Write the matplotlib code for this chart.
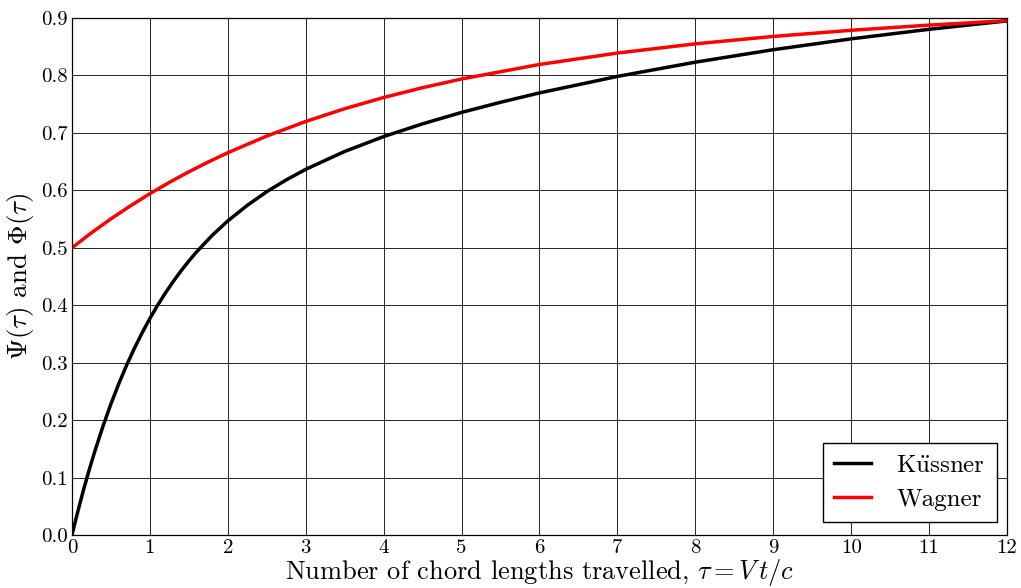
import matplotlib
matplotlib.use("Agg")
import matplotlib.pyplot as plt

plt.rcParams['font.family'] = 'serif'
plt.rcParams['font.serif'] = ['cmr10']
plt.rcParams['mathtext.fontset'] = 'cm'
plt.rcParams['axes.formatter.use_mathtext'] = True

# Küssner function values
kussner_tau = [0, 0.05, 0.1, 0.15, 0.2, 0.25, 0.3, 0.4, 0.5, 0.6, 0.7, 0.8, 0.9, 1.0,
               1.1, 1.2, 1.3, 1.4, 1.5, 1.6, 1.8, 2.0, 2.25, 2.5, 2.75, 3.0, 3.5, 4.0,
               4.5, 5.0, 5.5, 6.0, 7.0, 8.0, 9.0, 10.0, 11.0, 12.0]
kussner_val = [0.0, 0.0275, 0.0540, 0.0795, 0.1035, 0.1265, 0.1487, 0.1902, 0.2282,
               0.2631, 0.2952, 0.3247, 0.3519, 0.3770, 0.4002, 0.4216, 0.4414, 0.4599,
               0.4770, 0.4930, 0.5217, 0.5468, 0.5739, 0.5977, 0.6182, 0.6366, 0.6677,
               0.6936, 0.7158, 0.7356, 0.7533, 0.7696, 0.7983, 0.8231, 0.8448, 0.8637,
               0.8803, 0.8949]

# Wagner function values
wagner_tau = [0, 0.25, 0.5, 0.75, 1.0, 1.25, 1.5, 1.75, 2.0, 2.5, 3.0, 3.5, 4.0, 4.5,
              5.0, 6.0, 7.0, 8.0, 9.0, 10.0, 11.0, 12.0]
wagner_val = [0.5, 0.5261, 0.5504, 0.5730, 0.5942, 0.6139, 0.6323, 0.6494, 0.6655,
              0.6945, 0.7199, 0.7421, 0.7616, 0.7787, 0.7938, 0.8191, 0.8390, 0.8550,
              0.8679, 0.8786, 0.8876, 0.8953]

x_ticks = list(range(0, 13))
y_ticks = [0.0, 0.1, 0.2, 0.3, 0.4, 0.5, 0.6, 0.7, 0.8, 0.9]

fig = plt.figure(figsize=(10.21, 5.88), dpi=100)
ax = fig.add_axes([0.0705, 0.0901, 0.9158, 0.8793])

ax.plot(kussner_tau, kussner_val, color='black', lw=2.5,
        label=r'K$\mathrm{\ddot{u}}$ssner')
ax.plot(wagner_tau, wagner_val, color='red', lw=2.5, label='Wagner')

ax.set_xlim(0, 12)
ax.set_ylim(0, 0.9)
ax.set_xticks(x_ticks)
ax.set_yticks(y_ticks)
ax.set_xticklabels([str(t) for t in x_ticks])
ax.set_yticklabels([f"{t:.1f}" for t in y_ticks])
ax.tick_params(length=0, labelsize=15, pad=3)
ax.grid(True, color='black', lw=0.6)
for s in ax.spines.values():
    s.set_linewidth(0.9)

ax.set_xlabel(r"Number of chord lengths travelled, $\tau = V\,t/c$",
              fontsize=19, labelpad=0)
ax.set_ylabel(r"$\Psi(\tau)$ and $\Phi(\tau)$", fontsize=19.5, labelpad=4)

leg = ax.legend(loc='lower right', fontsize=18, fancybox=False, framealpha=1,
                edgecolor='black', borderpad=0.45, handlelength=1.5,
                handletextpad=1.0, borderaxespad=0.0, labelspacing=0.45,
                bbox_to_anchor=(0.989, 0.025))
leg.get_frame().set_linewidth(1.0)

fig.savefig('out.png', dpi=100)
